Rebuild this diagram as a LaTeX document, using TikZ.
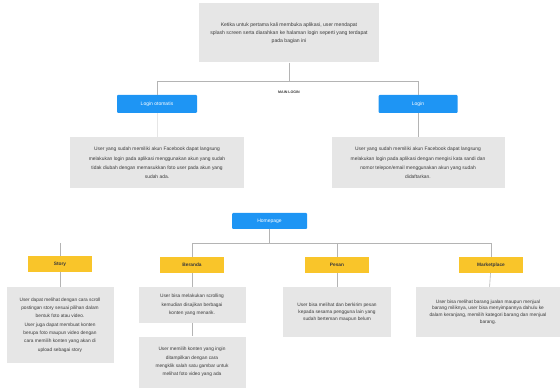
\documentclass[tikz,border=0pt]{standalone}
\usepackage{fontspec}
\setmainfont{Liberation Sans}
\usepackage{tikz}
\usetikzlibrary{calc}
\definecolor{btnblue}{HTML}{1E95F4}
\definecolor{menuyellow}{HTML}{F9C52A}
\definecolor{boxgray}{HTML}{E6E6E6}
\definecolor{linegray}{HTML}{B4B4B4}
\definecolor{textgray}{HTML}{3A3A3A}
\tikzset{
  descbox/.style = {fill=boxgray, text=textgray, align=center, inner sep=1pt,
    font=\fontsize{4.8}{8.3}\selectfont},
  bluebtn/.style = {fill=btnblue, text=white, rounded corners=1pt, minimum height=18pt,
    font=\fontsize{5}{6}\selectfont},
  menubox/.style = {fill=menuyellow, text=textgray, minimum width=64pt, minimum height=16pt,
    font=\bfseries\fontsize{4.8}{6}\selectfont},
  link/.style = {draw=linegray, line width=0.6pt}
}
\begin{document}
\begin{tikzpicture}[x=1pt, y=-1pt]
\useasboundingbox (0,0) rectangle (560,390);
% login part
\node [descbox, minimum width=180pt, minimum height=59pt, font=\fontsize{5.1}{8}\selectfont] (start) at (289,33)
  {Ketika untuk pertama kali membuka aplikasi, user mendapat\\ splash screen serta diarahkan ke halaman login seperti yang terdapat\\ pada bagian ini};
\coordinate (loginsplit) at (289,81);
\node [font=\bfseries\fontsize{3.6}{4}\selectfont, text=textgray] (loginlabel) at (289,92) {MAIN LOGIN};
\node [bluebtn, minimum width=80pt] (autologin) at (157,104) {Login otomatis};
\node [bluebtn, minimum width=79pt] (login) at (418,104) {Login};
\node [descbox, minimum width=174pt, minimum height=51pt, font=\fontsize{4.9}{9.4}\selectfont] (autodesc) at (157,163)
  {User yang sudah memiliki akun Facebook dapat langsung\\ melakukan login pada aplikasi menggunakan akun yang sudah\\ tidak diubah dengan memasukkan foto user pada akun yang\\ sudah ada.};
\node [descbox, minimum width=173pt, minimum height=51pt, font=\fontsize{4.9}{9.4}\selectfont] (logindesc) at (418,163)
  {User yang sudah memiliki akun Facebook dapat langsung\\ melakukan login pada aplikasi dengan mengisi kata sandi dan\\ nomor telepon/email menggunakan akun yang sudah\\ didaftarkan.};
\draw [link] (start) -- (loginsplit);
\draw [link] (loginsplit) -| (autologin);
\draw [link] (loginsplit) -| (login);
\draw [link, draw=boxgray] (autologin) -- (autodesc);
\draw [link] (login) -- (logindesc);
% homepage part
\node [bluebtn, minimum width=75pt, minimum height=16pt] (home) at (269.5,221) {Homepage};
\coordinate (homesplit) at (269.5,243);
\coordinate (storytop) at (60,243);
\node [menubox] (story) at (60,264) {Story};
\node [menubox] (beranda) at (192,265) {Beranda};
\node [menubox] (pesan) at (337,265) {Pesan};
\node [menubox] (market) at (491,265) {Marketplace};
\node [descbox, minimum width=107pt, minimum height=76pt] (storydesc) at (60,325)
  {User dapat melihat dengan cara scroll\\ postingan story sesuai pilihan dalam\\ bentuk foto atau video.\\ User juga dapat membuat konten\\ berupa foto maupun video dengan\\ cara memilih konten yang akan di\\ upload sebagai story};
\node [descbox, minimum width=107pt, minimum height=36pt] (berandaone) at (192,305)
  {User bisa melakukan scrolling\\ kemudian disajikan berbagai\\ konten yang menarik.};
\node [descbox, minimum width=107pt, minimum height=51pt] (berandatwo) at (192,362)
  {User memilih konten yang ingin\\ ditampilkan dengan cara\\ mengklik salah satu gambar untuk\\ melihat foto video yang ada};
\node [descbox, minimum width=108pt, minimum height=50pt, font=\fontsize{4.8}{6.9}\selectfont] (pesandesc) at (337,312)
  {User bisa melihat dan berkirim pesan\\ kepada sesama pengguna lain yang\\ sudah berteman maupun belum};
\node [descbox, minimum width=144pt, minimum height=50pt, font=\fontsize{4.8}{6.6}\selectfont] (marketdesc) at (488,312)
  {User bisa melihat barang jualan maupun menjual\\ barang miliknya, user bisa menyimpannya dahulu ke\\ dalam keranjang, memilih kategori barang dan menjual\\ barang.};
\draw [link] (home) -- (homesplit);
\draw [link] (homesplit) -| (beranda);
\draw [link] (homesplit) -| (pesan);
\draw [link] (homesplit) -| (market);
\draw [link] (storytop) -- (story);
\draw [link] (story) -- (storydesc);
\draw [link] (beranda) -- (berandaone);
\draw [link] (berandaone) -- (berandatwo);
\draw [link] (pesan) -- (pesandesc);
\draw [link] (market) -- (marketdesc);
\end{tikzpicture}
\end{document}
